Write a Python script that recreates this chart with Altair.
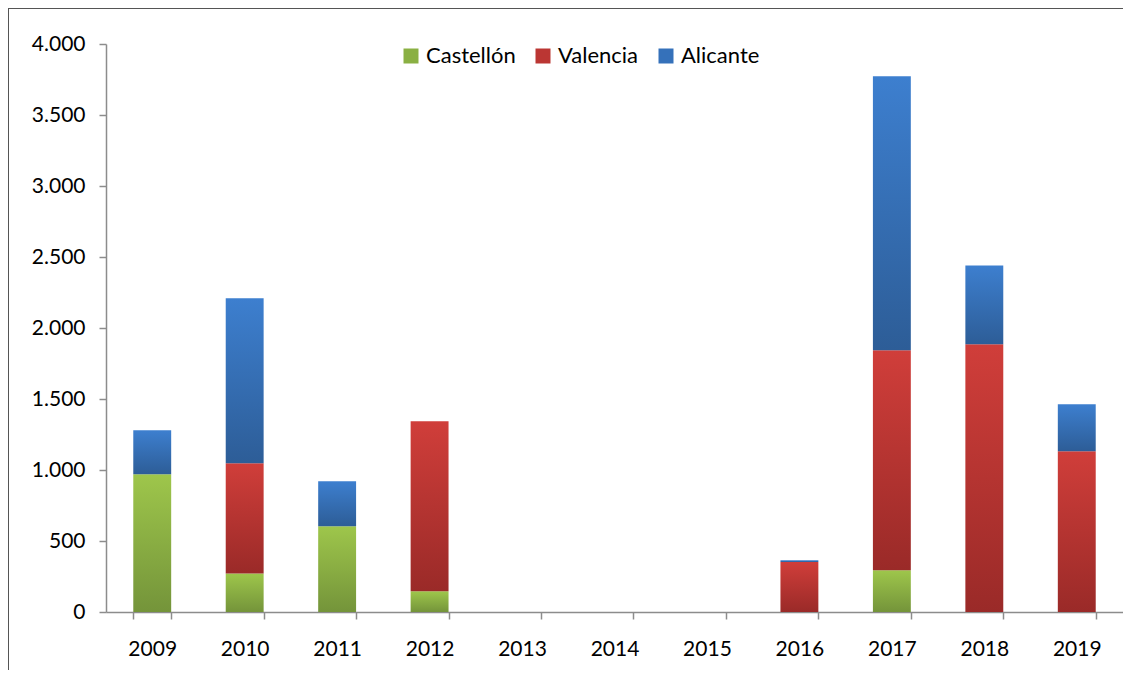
import altair as alt
import pandas as pd

years = ["2009", "2010", "2011", "2012", "2013", "2014", "2015", "2016", "2017", "2018", "2019"]
series = ["Castellón", "Valencia", "Alicante"]
castellon = [970, 272, 604, 146, 0, 0, 0, 0, 294, 0, 0]
valencia = [0, 775, 0, 1197, 0, 0, 0, 352, 1549, 1885, 1132]
alicante = [310, 1162, 317, 0, 0, 0, 0, 12, 1930, 556, 331]

rows = []
for i, y in enumerate(years):
    for k, (s, vals) in enumerate(zip(series, [castellon, valencia, alicante])):
        rows.append({"year": y, "series": s, "order": k, "value": vals[i]})
df = pd.DataFrame(rows)

FONT = "Lato"
AXIS_GRAY = "#8c8c8c"

def grad(top, bottom):
    return alt.Gradient(
        gradient="linear",
        stops=[alt.GradientStop(color=top, offset=0), alt.GradientStop(color=bottom, offset=1)],
        x1=0, x2=0, y1=0, y2=1,
    )

grads = {
    "Castellón": grad("#9ec64b", "#74943a"),
    "Valencia": grad("#d03e3a", "#9a2a28"),
    "Alicante": grad("#3d7fcf", "#2d5d97"),
}
legend_colors = ["#8ab043", "#bb3633", "#3571ba"]

xscale = alt.Scale(domain=years, paddingInner=0.59, paddingOuter=0.295)
yscale = alt.Scale(domain=[0, 4000], nice=False)

xaxis = alt.Axis(title=None, labelAngle=0, tickBand="extent", tickSize=7,
                 labelPadding=19, grid=False)
yaxis = alt.Axis(title=None, values=list(range(0, 4001, 500)),
                 labelExpr="replace(format(datum.value, ','), ',', '.')",
                 grid=False, tickSize=7, labelPadding=14)

base = alt.Chart(df).transform_stack(
    stack="value", as_=["y0", "y1"], groupby=["year"],
    sort=[alt.SortField("order", order="ascending")],
)

layers = []
for s in series:
    layers.append(
        base.transform_filter(alt.datum.series == s)
        .mark_bar(fill=grads[s], strokeWidth=0)
        .encode(
            x=alt.X("year:N", scale=xscale, axis=xaxis, sort=years),
            y=alt.Y("y0:Q", scale=yscale, axis=yaxis),
            y2="y1:Q",
        )
    )

legend_layer = (
    alt.Chart(df)
    .transform_filter("false")
    .mark_square(size=225, opacity=1)
    .encode(
        x=alt.X("year:N", scale=xscale, sort=years),
        y=alt.Y("value:Q", scale=yscale),
        color=alt.Color(
            "series:N",
            scale=alt.Scale(domain=series, range=legend_colors),
            legend=alt.Legend(
                title=None, orient="none", direction="horizontal",
                legendX=294, legendY=1, symbolType="square", symbolSize=225,
                symbolStrokeWidth=0, symbolOpacity=1, labelFont=FONT,
                labelFontSize=22, labelColor="#000000", columnPadding=16,
                labelOffset=4,
            ),
        ),
    )
)

frame_df = pd.DataFrame({"k": [0]})
frame_top = alt.Chart(frame_df).mark_rule(color="#555555", strokeWidth=2).encode(
    x=alt.value(-98), x2=alt.value(1030), y=alt.value(-36)
)
frame_left = alt.Chart(frame_df).mark_rule(color="#555555", strokeWidth=2).encode(
    x=alt.value(-98), y=alt.value(-36), y2=alt.value(700)
)

chart = (
    alt.layer(*layers, legend_layer, frame_top, frame_left)
    .properties(
        width=1017, height=568,
        autosize=alt.AutoSizeParams(type="none"),
        padding={"left": 98, "top": 36, "right": 0, "bottom": 58},
    )
    .configure_view(stroke=None)
    .configure_axis(
        labelFont=FONT, labelFontSize=21, labelColor="#000000",
        domainColor=AXIS_GRAY, tickColor=AXIS_GRAY, domainWidth=1.5, tickWidth=1.5,
    )
)

chart.save("out.html", embed_options={"renderer": "svg", "actions": False})
